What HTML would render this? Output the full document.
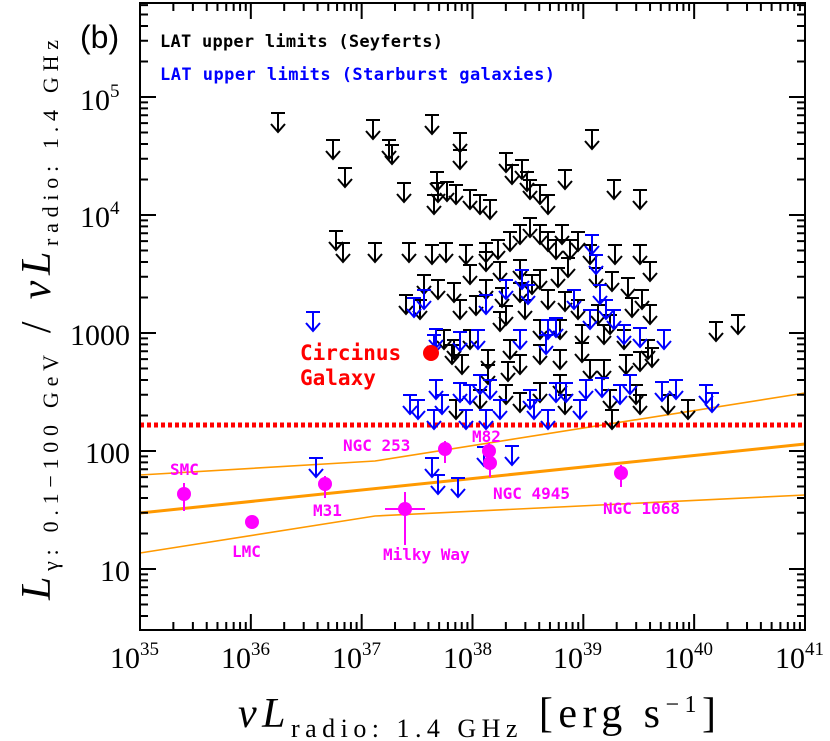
<!DOCTYPE html>
<html><head><meta charset="utf-8"><style>
body{margin:0;background:#fff;}
svg{display:block;}
.t{font-family:"Liberation Serif",serif;font-size:30px;fill:#000;}
.m{font-family:"DejaVu Sans Mono","Liberation Mono",monospace;font-weight:bold;}
</style></head><body>
<svg id="s" width="830" height="741" viewBox="0 0 830 741" xmlns="http://www.w3.org/2000/svg">
<rect x="0" y="0" width="830" height="741" fill="#fff"/>
<g id="g"></g>
<text x="80" y="48" font-family="Liberation Sans,sans-serif" font-size="32">(b)</text>
<text x="160" y="47" class="m" font-size="17" fill="#000" textLength="283">LAT upper limits (Seyferts)</text>
<text x="160" y="80" class="m" font-size="17" fill="#00f" textLength="395">LAT upper limits (Starburst galaxies)</text>
<text x="300" y="360" class="m" font-size="21" fill="#f00">Circinus</text>
<text x="300" y="385" class="m" font-size="21" fill="#f00">Galaxy</text>
<g class="m" font-size="16" fill="#f0f">
<text x="170" y="475">SMC</text>
<text x="232" y="557">LMC</text>
<text x="313" y="516">M31</text>
<text x="383" y="560">Milky Way</text>
<text x="343" y="451">NGC 253</text>
<text x="472" y="442">M82</text>
<text x="493" y="499">NGC 4945</text>
<text x="603" y="514">NGC 1068</text>
</g>
<g class="t">
<text x="110" y="668">10<tspan dy="-13" font-size="19">35</tspan></text>
<text x="221" y="668">10<tspan dy="-13" font-size="19">36</tspan></text>
<text x="332" y="668">10<tspan dy="-13" font-size="19">37</tspan></text>
<text x="443" y="668">10<tspan dy="-13" font-size="19">38</tspan></text>
<text x="553" y="668">10<tspan dy="-13" font-size="19">39</tspan></text>
<text x="664" y="668">10<tspan dy="-13" font-size="19">40</tspan></text>
<text x="775" y="668">10<tspan dy="-13" font-size="19">41</tspan></text>
<text x="80" y="110">10<tspan dy="-13" font-size="19">5</tspan></text>
<text x="80" y="227">10<tspan dy="-13" font-size="19">4</tspan></text>
<text x="70" y="345">1000</text>
<text x="85" y="463">100</text>
<text x="100" y="581">10</text>
</g>
<text x="238" y="727" font-family="Liberation Serif,serif" font-size="42" textLength="478" lengthAdjust="spacing"><tspan font-style="italic">νL</tspan><tspan font-size="26" dy="10">radio: 1.4 GHz</tspan><tspan dy="-10"> [erg s</tspan><tspan font-size="24" dy="-15">−1</tspan><tspan dy="15">]</tspan></text>
<text transform="translate(50,600) rotate(-90)" font-family="Liberation Serif,serif" font-size="42" textLength="560" lengthAdjust="spacing"><tspan font-style="italic">L</tspan><tspan font-size="22" dy="8">γ: 0.1−100 GeV</tspan><tspan dy="-8">  /  </tspan><tspan font-style="italic">νL</tspan><tspan font-size="22" dy="8">radio: 1.4 GHz</tspan></text>
</svg>
<script>
const g=document.getElementById('g');let h='';
const L=140,R=805,T=3,B=630;
const X=v=>L+(v-35)*110.83, Y=v=>569-118*(v-1);
h+=`<polyline points="140,553 375,516 805,495" fill="none" stroke="#f90" stroke-width="1.6"/>`;
h+=`<polyline points="140,475 375,461 805,393" fill="none" stroke="#f90" stroke-width="1.6"/>`;
h+=`<line x1="140" y1="513" x2="805" y2="444" stroke="#f90" stroke-width="3"/>`;
h+=`<line x1="140" y1="425" x2="805" y2="425" stroke="#f00" stroke-width="5" stroke-dasharray="4,3"/>`;
function arr(x,y,c){return `<g stroke="${c}" stroke-width="2" fill="none"><line x1="${x-7}" y1="${y}" x2="${x+7}" y2="${y}"/><line x1="${x}" y1="${y}" x2="${x}" y2="${y+19}"/><polyline points="${x-7},${y+11} ${x},${y+19} ${x+7},${y+11}"/></g>`;}
const bk=[278,113,336,231,345,168,333,140,373,120,389,140,392,145,404,183,432,115,437,172,434,195,438,183,447,182,456,185,460,133,460,150,470,190,480,195,490,200,506,153,512,165,522,160,527,172,530,180,540,185,548,195,565,170,592,130,614,180,640,190,343,243,375,243,409,243,432,245,446,243,466,245,486,243,498,240,510,232,520,225,530,218,540,225,548,232,556,240,562,225,570,240,578,232,590,245,615,245,640,245,650,262,500,262,486,252,520,260,540,270,558,268,568,258,596,268,612,272,628,278,642,290,650,305,424,275,438,280,454,283,470,265,486,280,502,288,520,283,532,275,548,290,565,292,578,300,598,305,610,315,632,298,406,295,420,300,460,300,476,296,506,306,525,300,540,320,560,320,582,325,604,325,624,330,648,340,716,322,738,315,652,348,444,330,454,340,470,330,488,350,510,340,520,355,540,345,560,350,582,343,604,360,626,355,640,352,488,365,508,362,456,400,480,390,506,385,520,393,540,383,565,395,610,390,636,385,640,395,612,410,688,400,668,395,590,360,560,375,500,312,452,345,462,355];
const bl=[313,312,424,290,414,298,436,329,434,335,460,332,478,330,486,295,506,280,522,270,528,285,548,320,556,318,574,290,590,310,592,235,596,255,600,285,606,300,614,310,624,325,640,328,664,330,546,335,520,330,480,375,490,380,460,383,436,380,418,400,410,395,442,395,470,385,500,400,530,390,556,383,566,383,586,380,602,378,620,385,630,375,662,382,676,380,706,385,712,393,534,400,548,410,580,400,434,410,466,410,486,410,432,458,438,475,458,478,484,447,512,446,316,458];
for(let i=0;i<bk.length;i+=2)h+=arr(bk[i],bk[i+1],'#000');
for(let i=0;i<bl.length;i+=2)h+=arr(bl[i],bl[i+1],'#00f');
const mp=[[184,494,11],[252,522,0],[325,484,8],[445,449,8],[489,451,8],[490,463,8],[621,473,8]];
for(const p of mp){h+=`<line x1="${p[0]}" y1="${p[1]-p[2]}" x2="${p[0]}" y2="${p[1]+p[2]+6}" stroke="#f0f" stroke-width="2"/><circle cx="${p[0]}" cy="${p[1]}" r="7" fill="#f0f"/>`;}
h+=`<line x1="385" y1="509" x2="425" y2="509" stroke="#f0f" stroke-width="2"/><line x1="405" y1="492" x2="405" y2="545" stroke="#f0f" stroke-width="2"/><circle cx="405" cy="509" r="7" fill="#f0f"/>`;
h+=`<circle cx="431" cy="353" r="8" fill="#f00"/>`;
h+=`<rect x="${L}" y="${T}" width="${R-L}" height="${B-T}" fill="none" stroke="#000" stroke-width="2"/>`;
let tk='';
for(let d=35;d<41;d++)for(let k=1;k<10;k++){const x=X(d+Math.log10(k));const len=k==1?16:8;if(x>R)continue;tk+=`M${x} ${B}v${-len}M${x} ${T}v${len}`;}
for(let d=0;d<6;d++)for(let k=1;k<10;k++){const y=Y(d+Math.log10(k));const len=k==1?16:8;if(y<T||y>B)continue;tk+=`M${L} ${y}h${len}M${R} ${y}h${-len}`;}
h+=`<path d="${tk}" stroke="#000" stroke-width="2"/>`;
g.innerHTML=h;
</script>
</body></html>
